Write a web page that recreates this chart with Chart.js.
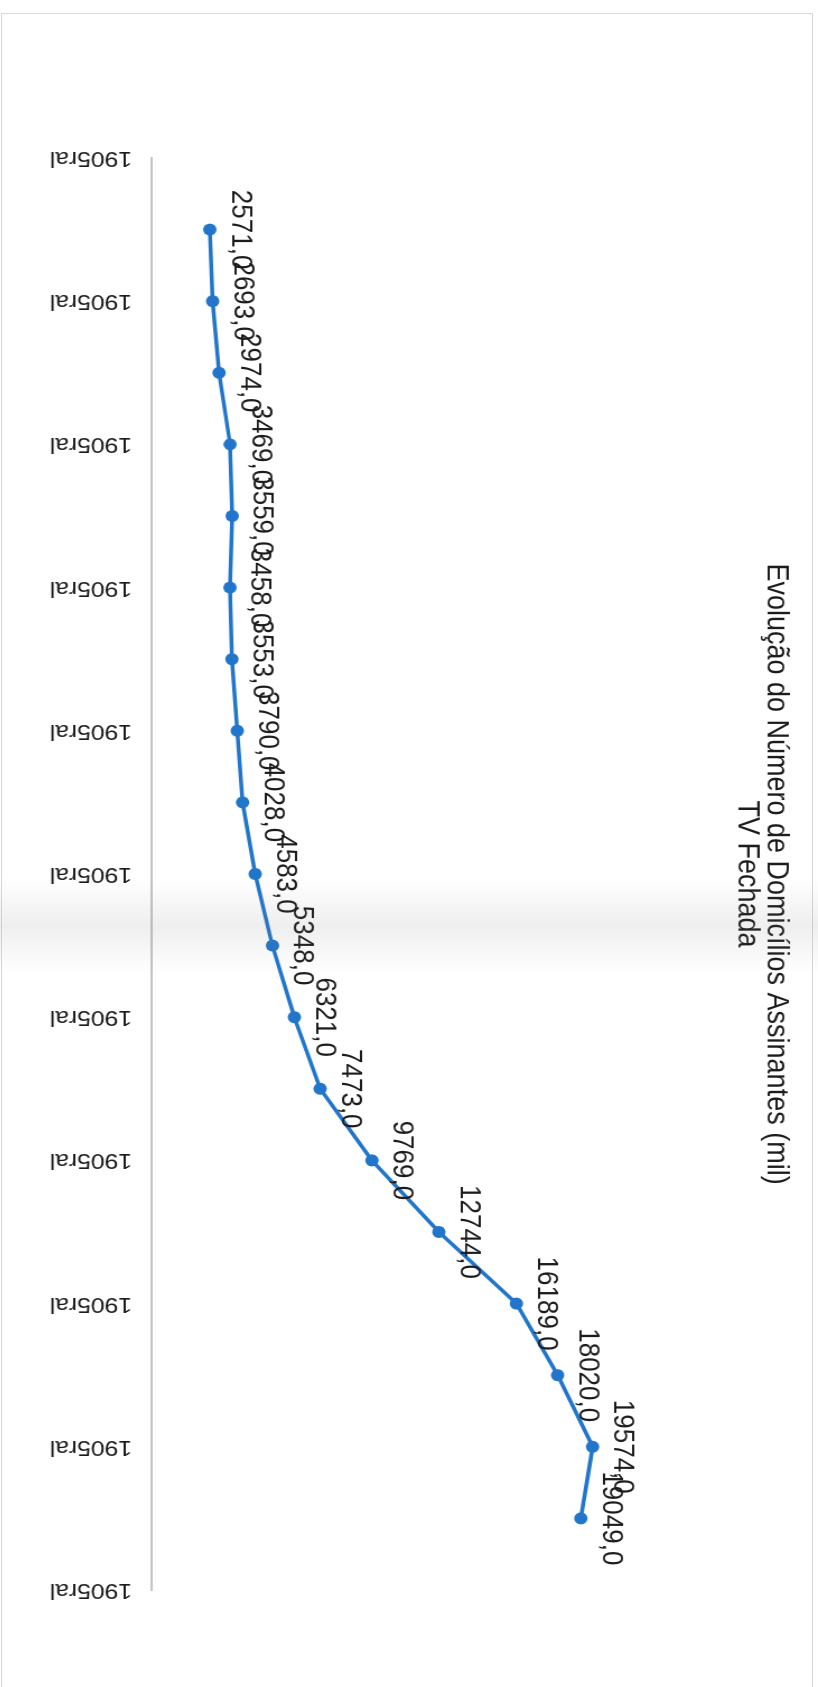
<!DOCTYPE html>
<html>
<head>
<meta charset="utf-8">
<script src="https://cdn.jsdelivr.net/npm/chart.js@4.4.1/dist/chart.umd.min.js"></script>
<style>
  html, body { margin: 0; padding: 0; background: #fff; }
  body { width: 818px; height: 1687px; overflow: hidden; position: relative; }
  #sheet {
    position: absolute; left: 1px; top: 13px; width: 810px; height: 1720px;
    border: 1.5px solid #d8d8d8; border-bottom: none;
  }
  /* the chart is laid out landscape and turned a quarter turn onto the page */
  #chart {
    position: absolute; left: 0; top: 0;
    transform-origin: 0 0;
    transform: translate(818px, 0) rotate(90deg) scale(1, 1.12);
  }
  #band {
    position: absolute; left: 0; top: 878px; width: 818px; height: 96px;
    background: linear-gradient(to bottom, rgba(0,0,0,0), rgba(120,120,120,0.12) 50%, rgba(0,0,0,0));
    pointer-events: none;
  }
</style>
</head>
<body>
<div id="sheet"></div>
<canvas id="chart" width="1687" height="730"></canvas>
<div id="band"></div>
<script>
// Subscriber households, pay TV (thousands)
const periods = [0, 1, 2, 3, 4, 5, 6, 7, 8, 9, 10, 11, 12, 13, 14, 15, 16, 17, 18];
const subscribers = [2571, 2693, 2974, 3469, 3559, 3458, 3553, 3790, 4028, 4583,
                     5348, 6321, 7473, 9769, 12744, 16189, 18020, 19574, 19049];
const tickLabels = ['1905ral', '1905ral', '1905ral', '1905ral', '1905ral', '1905ral',
                    '1905ral', '1905ral', '1905ral', '1905ral', '1905ral'];
const titleLines = ['Evolução do Número de Domicílios Assinantes (mil)', 'TV Fechada'];

const FONT = '"Liberation Sans", Arial, Helvetica, sans-serif';
const LINE_BLUE = '#2176cc';
const TEXT = '#1c1c1c';

const fmt = v => v.toFixed(1).replace('.', ',');

// value labels just above each point
const valueLabels = {
  id: 'valueLabels',
  afterDatasetsDraw(chart) {
    const ctx = chart.ctx;
    const meta = chart.getDatasetMeta(0);
    ctx.save();
    ctx.font = '26px ' + FONT;
    ctx.fillStyle = TEXT;
    ctx.textAlign = 'center';
    ctx.textBaseline = 'alphabetic';
    meta.data.forEach((pt, i) => {
      ctx.fillText(fmt(subscribers[i]), pt.x, pt.y - 19.5);
    });
    ctx.restore();
  }
};

// category tick labels, set on their side below the axis
const sideTicks = {
  id: 'sideTicks',
  afterDraw(chart) {
    const ctx = chart.ctx;
    const sc = chart.scales.x;
    ctx.save();
    ctx.font = '22px ' + FONT;
    ctx.fillStyle = TEXT;
    sc.ticks.forEach((t, i) => {
      const px = sc.getPixelForValue(t.value);
      ctx.save();
      ctx.translate(px, sc.top + 18);
      ctx.rotate(Math.PI / 2);
      ctx.textAlign = 'left';
      ctx.textBaseline = 'middle';
      ctx.fillText(tickLabels[i] ?? '', 0, 0);
      ctx.restore();
    });
    ctx.restore();
  }
};

new Chart(document.getElementById('chart'), {
  type: 'line',
  data: {
    datasets: [{
      data: periods.map((p, i) => ({ x: p, y: subscribers[i] })),
      borderColor: LINE_BLUE,
      backgroundColor: LINE_BLUE,
      borderWidth: 3.5,
      pointRadius: 6,
      pointBorderWidth: 0,
      pointBackgroundColor: LINE_BLUE,
      tension: 0,
      fill: false
    }]
  },
  options: {
    responsive: false,
    animation: false,
    devicePixelRatio: 1,
    layout: { padding: { left: 158, right: 97, top: 0, bottom: 135.4 } },
    plugins: {
      legend: { display: false },
      tooltip: { enabled: false },
      title: {
        display: true,
        text: titleLines,
        color: TEXT,
        font: { family: FONT, size: 27, weight: 'normal', lineHeight: 0.98 },
        padding: { top: 24.3, bottom: 14.9 }
      }
    },
    scales: {
      x: {
        type: 'linear',
        min: -1,
        max: 19,
        ticks: { stepSize: 2, display: false },
        grid: { display: false, drawTicks: false },
        border: { display: true, color: '#c4c4c4', width: 2 }
      },
      y: {
        display: false,
        min: 0,
        max: 25000
      }
    }
  },
  plugins: [valueLabels, sideTicks]
});
</script>
</body>
</html>
